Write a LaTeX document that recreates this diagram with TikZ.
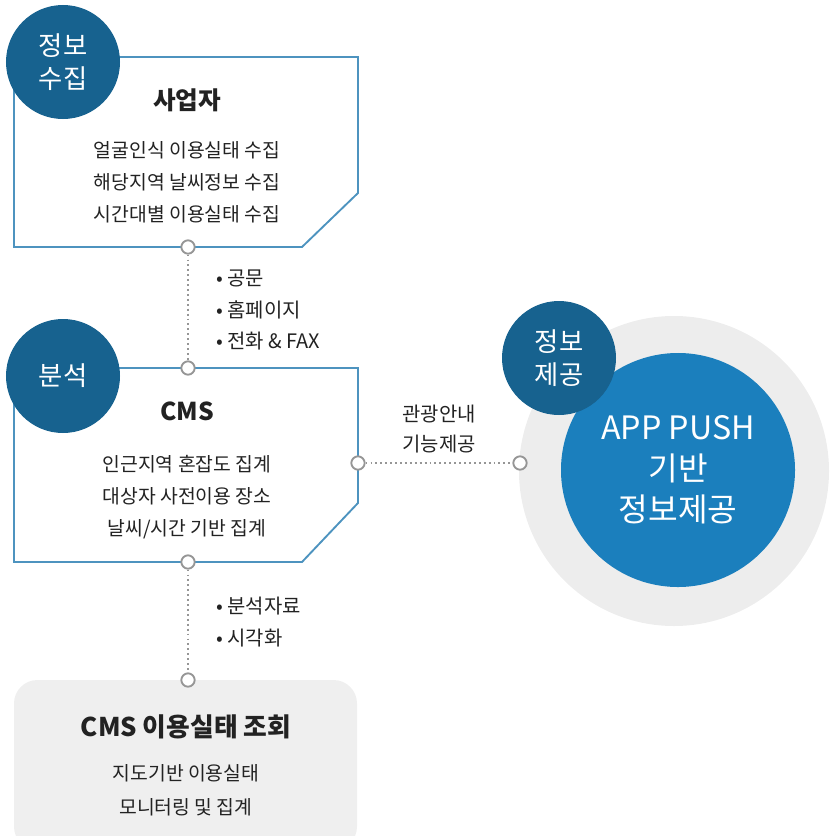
\documentclass[tikz,border=0pt]{standalone}
\usepackage{fontspec}
\setmainfont{Noto Sans CJK KR}
\usepackage{tikz}
\usetikzlibrary{positioning}

\definecolor{tagblue}{RGB}{23,98,143}
\definecolor{pushblue}{RGB}{27,127,189}
\definecolor{edgeblue}{RGB}{77,147,191}
\definecolor{portgray}{RGB}{150,150,150}
\definecolor{ringgray}{RGB}{237,237,237}
\definecolor{boxgray}{RGB}{239,239,239}
\definecolor{inkgray}{RGB}{34,34,34}

\tikzset{
  tagcirc/.style={circle,fill=tagblue,text=white,minimum size=3.42cm,inner sep=0pt,align=center,
    font=\fontsize{22.5}{28}\selectfont},
  port/.style={circle,draw=portgray,fill=white,line width=1.6pt,minimum size=0.4cm,inner sep=0pt},
  frame/.style={draw=edgeblue,line width=1.6pt,fill=white},
  titletxt/.style={text=inkgray,font=\fontsize{21}{26}\selectfont\bfseries},
  bodytxt/.style={text=inkgray,align=center,font=\fontsize{16.5}{27.5}\selectfont},
  notetxt/.style={text=inkgray,align=left,font=\fontsize{17}{27}\selectfont},
  link/.style={draw=portgray,line width=1.6pt,dash pattern=on 1.6pt off 2.6pt}
}

\begin{document}
\begin{tikzpicture}[x=0.03cm,y=-0.03cm]
  \useasboundingbox (0,0) rectangle (833,836);

  % collection box
  \draw[frame] (63,57) -- (358,57) -- (358,193) -- (302,247) -- (14,247) -- (14,62);
  \node[tagcirc] (collect) at (63,62) {정보\\수집};
  \node[titletxt] (biz) at (187,100) {사업자};
  \node[bodytxt] (bizlist) at (187,182) {얼굴인식 이용실태 수집\\해당지역 날씨정보 수집\\시간대별 이용실태 수집};

  % analysis box
  \draw[frame] (63,368) -- (358,368) -- (358,503) -- (302,562) -- (14,562) -- (14,376);
  \node[tagcirc] (analyse) at (63,376) {분석};
  \node[titletxt] (cms) at (187,411) {CMS};
  \node[bodytxt] (cmslist) at (187,497) {인근지역 혼잡도 집계\\대상자 사전이용 장소\\날씨/시간 기반 집계};

  % view box
  \fill[boxgray,rounded corners=20pt] (14,680) rectangle (357,850);
  \node[titletxt,font=\fontsize{22}{26}\selectfont\bfseries] (view) at (186,727) {CMS 이용실태 조회};
  \node[bodytxt,font=\fontsize{16.5}{29}\selectfont] (viewlist) at (186,790) {지도기반 이용실태\\모니터링 및 집계};

  % push circles
  \node[circle,fill=ringgray,minimum size=9.3cm,inner sep=0pt] (ring) at (674,471) {};
  \node[circle,fill=pushblue,text=white,minimum size=7.02cm,inner sep=0pt,align=center,
    font=\fontsize{27.5}{35}\selectfont] (push) at (678,470) {APP PUSH\\기반\\정보제공};
  \node[tagcirc] (provide) at (559,358) {정보\\제공};

  % ports
  \node[port] (p1) at (188,247) {};
  \node[port] (p2) at (188,368) {};
  \node[port] (p3) at (188,562) {};
  \node[port] (p4) at (358,463) {};
  \node[port] (p5) at (520,463) {};
  \node[port] (p6) at (188,680) {};

  % links
  \draw[link] (p1) -- (p2);
  \draw[link] (p3) -- (p6);
  \draw[link] (p4) -- (p5);

  \node[notetxt,anchor=west] (via) at (212,310) {• 공문\\• 홈페이지\\• 전화 \& FAX};
  \node[notetxt,anchor=west] (out) at (212,622) {• 분석자료\\• 시각화};
  \node[bodytxt,font=\fontsize{17}{25}\selectfont] (tour) at (439,429) {관광안내\\기능제공};
\end{tikzpicture}
\end{document}
